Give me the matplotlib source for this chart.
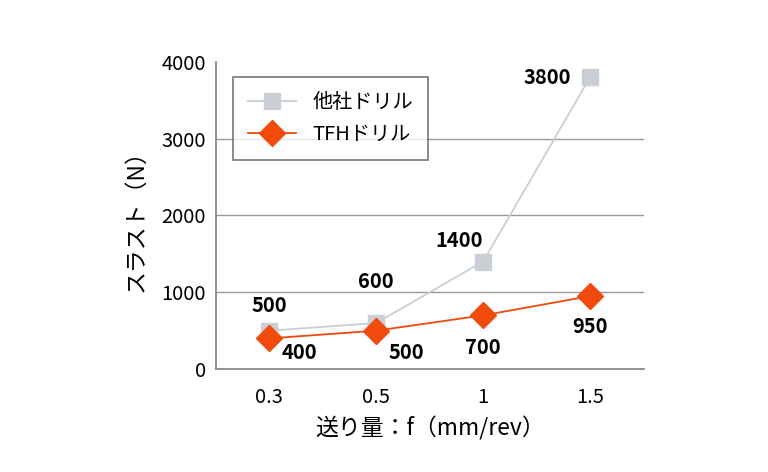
import matplotlib.pyplot as plt

plt.rcParams['font.family'] = ['Noto Sans CJK JP', 'DejaVu Sans']

# データ
feeds = ['0.3', '0.5', '1', '1.5']
other_drill = [500, 600, 1400, 3800]
tfh_drill = [400, 500, 700, 950]
y_ticks = [0, 1000, 2000, 3000, 4000]

# ラベル位置 (points)
other_offsets = [(0, 18), (0, 30), (-17, 15), (-31, 0)]
tfh_offsets = [(22, -10), (22, -16), (0, -23), (0, -22)]

gray = '#c9cfd4'
orange = '#f04a0c'

fig = plt.figure(figsize=(7.68, 4.72), dpi=100)
ax = fig.add_axes([0.281, 0.218, 0.557, 0.651])

x = range(len(feeds))
ax.plot(x, other_drill, color=gray, marker='s', markersize=11, lw=1.3, label='他社ドリル', zorder=3)
ax.plot(x, tfh_drill, color=orange, marker='D', markersize=13, lw=1.3, label='TFHドリル', zorder=4)

for i, v in enumerate(other_drill):
    ax.annotate(str(v), (i, v), xytext=other_offsets[i], textcoords='offset points',
                ha='center', va='center', fontsize=14.5, fontweight='bold')
for i, v in enumerate(tfh_drill):
    ax.annotate(str(v), (i, v), xytext=tfh_offsets[i], textcoords='offset points',
                ha='center', va='center', fontsize=14.5, fontweight='bold')

ax.set_xlim(-0.5, 3.5)
ax.set_ylim(0, 4000)
ax.set_xticks(list(x))
ax.set_xticklabels(feeds)
ax.set_yticks(y_ticks)
ax.tick_params(length=0, labelsize=14.5, pad=7)
ax.tick_params(axis='x', pad=13)
ax.grid(False)
# 目盛線 (上端なし)
for t in y_ticks[1:-1]:
    ax.axhline(t, color='#999999', lw=1, zorder=1)
ax.spines['top'].set_visible(False)
ax.spines['right'].set_visible(False)
for s in ['left', 'bottom']:
    ax.spines[s].set_color('#888888')
    ax.spines[s].set_linewidth(1.3)

ax.set_ylabel('スラスト（N）', fontsize=16.5, labelpad=10)
ax.set_xlabel('送り量：f（mm/rev）', fontsize=16.5, labelpad=6)

leg = ax.legend(loc='upper left', bbox_to_anchor=(0.04, 0.95), fontsize=14.5, frameon=True,
                fancybox=False, edgecolor='#555555', handlelength=2.4, borderpad=0.75,
                labelspacing=0.55, borderaxespad=0)
leg.get_frame().set_linewidth(1.2)

fig.savefig('out.png', dpi=100)
plt.close(fig)
